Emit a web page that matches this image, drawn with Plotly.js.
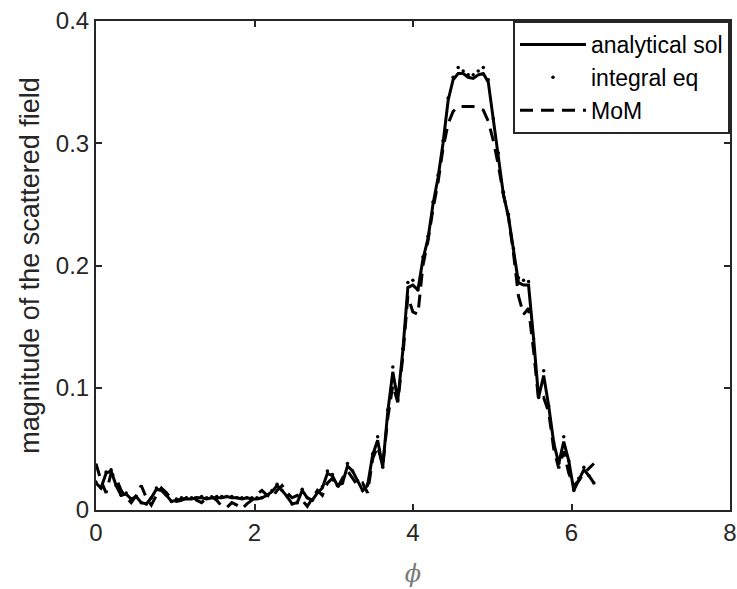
<!DOCTYPE html>
<html>
<head>
<meta charset="utf-8">
<script src="https://cdn.plot.ly/plotly-3.0.1.min.js"></script>
<style>html,body{margin:0;padding:0;background:#fff;}#chart{width:737px;height:589px;}</style>
</head>
<body>
<div id="chart"></div>
<script>
// sample angles phi (rad)
const phi = [0.000,0.063,0.127,0.190,0.254,0.317,0.381,0.444,0.508,0.571,
0.635,0.698,0.762,0.825,0.889,0.952,1.015,1.079,1.142,1.206,
1.269,1.333,1.396,1.460,1.523,1.587,1.650,1.714,1.777,1.841,
1.904,1.967,2.031,2.094,2.158,2.221,2.285,2.348,2.412,2.475,
2.539,2.602,2.666,2.729,2.793,2.856,2.920,2.983,3.046,3.110,
3.173,3.237,3.300,3.364,3.427,3.491,3.554,3.618,3.681,3.745,
3.808,3.871,3.935,3.998,4.062,4.125,4.189,4.252,4.316,4.379,
4.443,4.506,4.570,4.633,4.697,4.760,4.823,4.887,4.950,5.014,
5.077,5.141,5.204,5.268,5.331,5.395,5.458,5.522,5.585,5.649,
5.712,5.776,5.839,5.902,5.966,6.029,6.093,6.156,6.220,6.283];

const analytical = [0.022,0.018,0.030,0.032,0.020,0.012,0.013,0.009,0.011,0.006,
0.005,0.010,0.017,0.016,0.012,0.007,0.008,0.009,0.009,0.009,
0.010,0.010,0.009,0.010,0.010,0.010,0.011,0.010,0.010,0.009,
0.010,0.009,0.009,0.010,0.012,0.015,0.020,0.016,0.011,0.005,
0.006,0.016,0.010,0.008,0.014,0.018,0.030,0.028,0.020,0.022,
0.036,0.032,0.024,0.016,0.020,0.045,0.057,0.035,0.080,0.113,
0.090,0.130,0.182,0.184,0.180,0.205,0.222,0.250,0.272,0.300,
0.335,0.352,0.357,0.357,0.354,0.353,0.356,0.357,0.350,0.318,
0.290,0.258,0.240,0.212,0.186,0.184,0.184,0.140,0.092,0.110,
0.085,0.055,0.038,0.056,0.040,0.016,0.025,0.033,0.028,0.022];

const integralEq = [0.023,0.018,0.031,0.033,0.020,0.012,0.014,0.009,0.011,0.006,
0.005,0.010,0.018,0.017,0.012,0.007,0.009,0.010,0.010,0.010,
0.010,0.011,0.010,0.010,0.011,0.011,0.011,0.011,0.010,0.010,
0.010,0.010,0.010,0.010,0.012,0.016,0.021,0.016,0.011,0.005,
0.006,0.017,0.010,0.008,0.015,0.019,0.032,0.029,0.020,0.022,
0.038,0.032,0.024,0.016,0.021,0.046,0.060,0.035,0.082,0.117,
0.090,0.132,0.186,0.188,0.180,0.207,0.224,0.252,0.274,0.302,
0.337,0.354,0.362,0.359,0.356,0.356,0.359,0.362,0.352,0.320,
0.292,0.260,0.242,0.214,0.190,0.188,0.187,0.140,0.092,0.114,
0.085,0.055,0.038,0.060,0.040,0.016,0.026,0.035,0.028,0.022];

const mom = [0.038,0.024,0.014,0.030,0.026,0.016,0.010,0.006,0.012,0.020,
0.010,0.004,0.012,0.018,0.014,0.009,0.007,0.008,0.010,0.012,
0.008,0.006,0.010,0.011,0.008,0.003,0.002,0.006,0.004,0.001,
0.005,0.008,0.013,0.016,0.012,0.010,0.016,0.020,0.014,0.010,
0.012,0.008,0.003,0.010,0.016,0.012,0.022,0.026,0.018,0.026,
0.032,0.026,0.020,0.022,0.014,0.042,0.052,0.036,0.075,0.102,
0.088,0.125,0.175,0.162,0.160,0.200,0.220,0.246,0.268,0.296,
0.316,0.326,0.330,0.330,0.330,0.330,0.329,0.327,0.318,0.302,
0.282,0.258,0.240,0.210,0.175,0.160,0.165,0.130,0.090,0.092,
0.080,0.050,0.034,0.048,0.030,0.020,0.024,0.030,0.034,0.038];

const xTicks = [0,2,4,6,8];
const yTicks = [0,0.1,0.2,0.3,0.4];
const seriesNames = ['analytical sol','integral eq','MoM'];

const FONT = 'Liberation Sans, Arial, sans-serif';
const AX = '#262626';

const traces = [
  {x: phi, y: analytical, name: seriesNames[0], type: 'scatter', mode: 'lines',
   line: {color: '#000', width: 3}},
  {x: phi, y: integralEq, name: seriesNames[1], type: 'scatter', mode: 'markers',
   marker: {color: '#000', size: 3.5}},
  {x: phi, y: mom, name: seriesNames[2], type: 'scatter', mode: 'lines',
   line: {color: '#000', width: 3, dash: '13px,8px'}}
];

const axisCommon = {
  showgrid: false, zeroline: false, showline: true, mirror: 'ticks',
  linecolor: AX, linewidth: 2, ticks: 'inside', ticklen: 6, tickwidth: 2,
  tickcolor: AX, tickfont: {family: FONT, size: 24, color: AX}
};

const layout = {
  width: 737, height: 589,
  margin: {l: 96, r: 7, t: 21, b: 79, pad: 0},
  paper_bgcolor: '#fff', plot_bgcolor: '#fff',
  showlegend: true,
  legend: {x: 1, y: 1, xanchor: 'right', yanchor: 'top',
    bgcolor: '#fff', bordercolor: AX, borderwidth: 2, itemwidth: 66,
    font: {family: FONT, size: 23, color: '#000'}, tracegroupgap: 0},
  xaxis: Object.assign({}, axisCommon, {range: [0, 8], tickvals: xTicks,
    ticktext: xTicks.map(String),
    title: {text: '<i>ϕ</i>', font: {family: 'DejaVu Serif, serif', size: 24, color: '#7a7a7a'}, standoff: 20}}),
  yaxis: Object.assign({}, axisCommon, {range: [0, 0.4], tickvals: yTicks,
    ticktext: yTicks.map(String),
    title: {text: 'magnitude of the scattered field', font: {family: FONT, size: 27, color: AX}, standoff: 8}})
};

Plotly.newPlot('chart', traces, layout, {displayModeBar: false, staticPlot: true});
</script>
</body>
</html>
